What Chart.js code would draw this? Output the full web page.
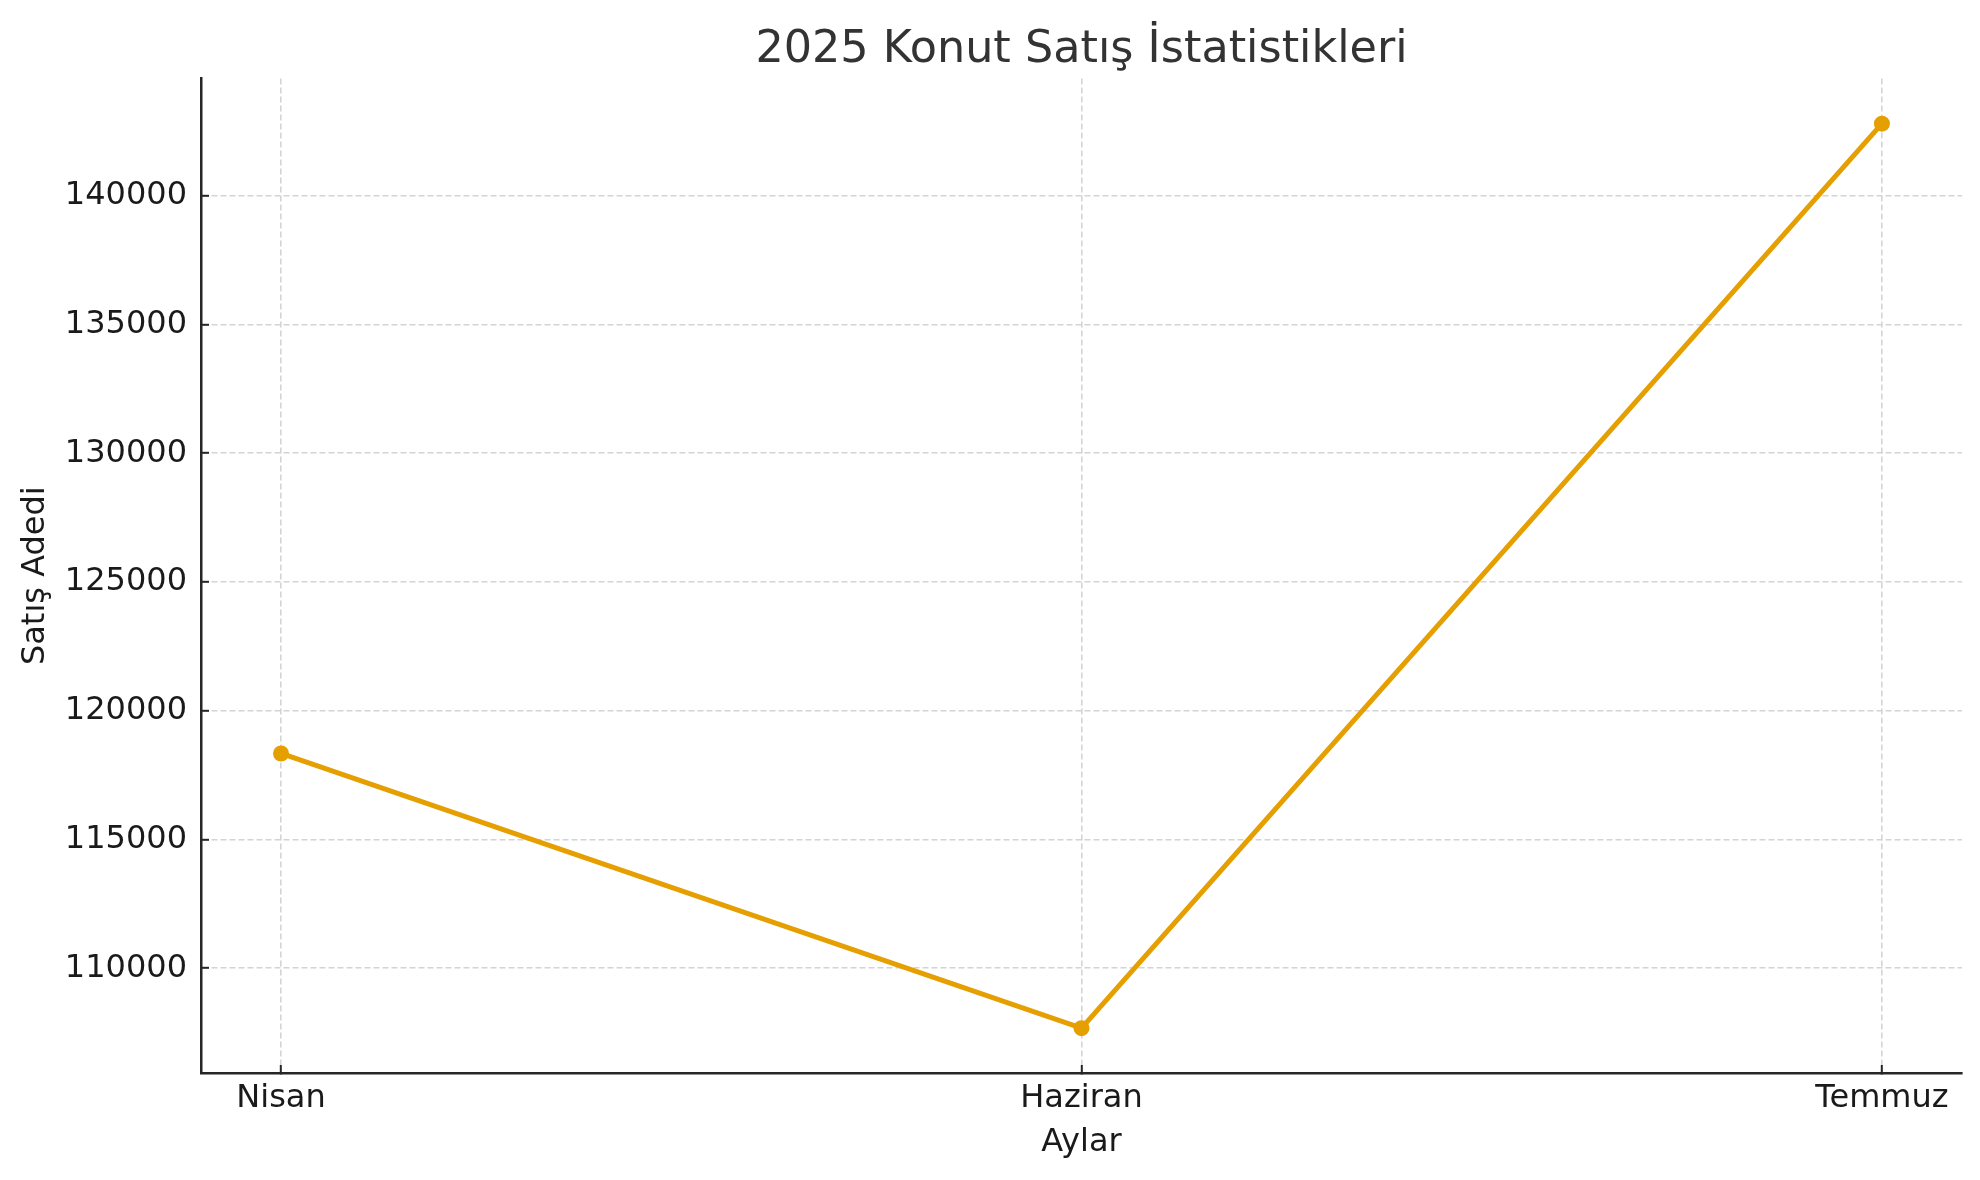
<!DOCTYPE html>
<html>
<head>
<meta charset="utf-8">
<script src="https://cdn.jsdelivr.net/npm/chart.js@4/dist/chart.umd.min.js"></script>
<style>
  html, body { margin: 0; padding: 0; background: #fff; }
  #wrap { width: 1980px; height: 1180px; }
</style>
</head>
<body>
<div id="wrap"><canvas id="salesChart" width="1980" height="1180"></canvas></div>
<script>
// data
const months = ["Nisan", "Haziran", "Temmuz"];
const sales = [118340, 107670, 142800];
const yTicks = [110000, 115000, 120000, 125000, 130000, 135000, 140000];

const FONT = "'DejaVu Sans', sans-serif";
const ORANGE = "#E69F00";

const points = months.map((m, i) => ({ x: i, y: sales[i] }));

const ctx = document.getElementById('salesChart').getContext('2d');

new Chart(ctx, {
    type: 'line',
    data: {
        datasets: [{
            label: 'Satış Adedi',
            data: points,
            borderColor: ORANGE,
            backgroundColor: ORANGE,
            borderWidth: 5,
            pointRadius: 8,
            pointHoverRadius: 8,
            pointBorderWidth: 0,
            tension: 0,
            fill: false
        }]
    },
    options: {
        responsive: false,
        animation: false,
        events: [],
        layout: { padding: { left: 0, right: 18, top: 0, bottom: 0 } },
        plugins: {
            legend: { display: false },
            tooltip: { enabled: false },
            title: {
                display: true,
                fullSize: false,
                text: '2025 Konut Satış İstatistikleri',
                color: '#333333',
                font: { family: FONT, size: 44.5, weight: 'normal', lineHeight: 1.2 },
                padding: { top: 24, bottom: 1 }
            }
        },
        scales: {
            x: {
                type: 'linear',
                min: -0.1,
                max: months.length - 0.9,
                afterBuildTicks: (scale) => {
                    scale.ticks = months.map((m, i) => ({ value: i }));
                },
                afterFit: (scale) => { scale.height = 107; },
                ticks: {
                    callback: (v) => months[v],
                    color: '#1a1a1a',
                    font: { family: FONT, size: 32 },
                    padding: 14,
                    maxRotation: 0,
                    autoSkip: false
                },
                grid: {
                    color: '#d4d4d4',
                    lineWidth: 1.6,
                    tickLength: -8,
                    tickColor: '#262626',
                    tickWidth: 2
                },
                border: { display: true, color: '#262626', width: 2.5, dash: [6, 3] },
                title: {
                    display: true,
                    text: 'Aylar',
                    color: '#1a1a1a',
                    font: { family: FONT, size: 32, lineHeight: 1.2 },
                    padding: { top: 0, bottom: 18 }
                }
            },
            y: {
                min: 105930,
                max: 144560,
                afterBuildTicks: (scale) => {
                    scale.ticks = yTicks.map(v => ({ value: v }));
                },
                afterFit: (scale) => { scale.width = 201; },
                ticks: {
                    callback: (v) => String(v),
                    color: '#1a1a1a',
                    font: { family: FONT, size: 32 },
                    padding: 22
                },
                grid: {
                    color: '#d4d4d4',
                    lineWidth: 1.6,
                    tickLength: -8,
                    tickColor: '#262626',
                    tickWidth: 2
                },
                border: { display: true, color: '#262626', width: 2.5, dash: [6, 3] },
                title: {
                    display: true,
                    text: 'Satış Adedi',
                    color: '#1a1a1a',
                    font: { family: FONT, size: 32, lineHeight: 1.2 },
                    padding: { top: 16, bottom: 0 }
                }
            }
        }
    }
});
</script>
</body>
</html>
